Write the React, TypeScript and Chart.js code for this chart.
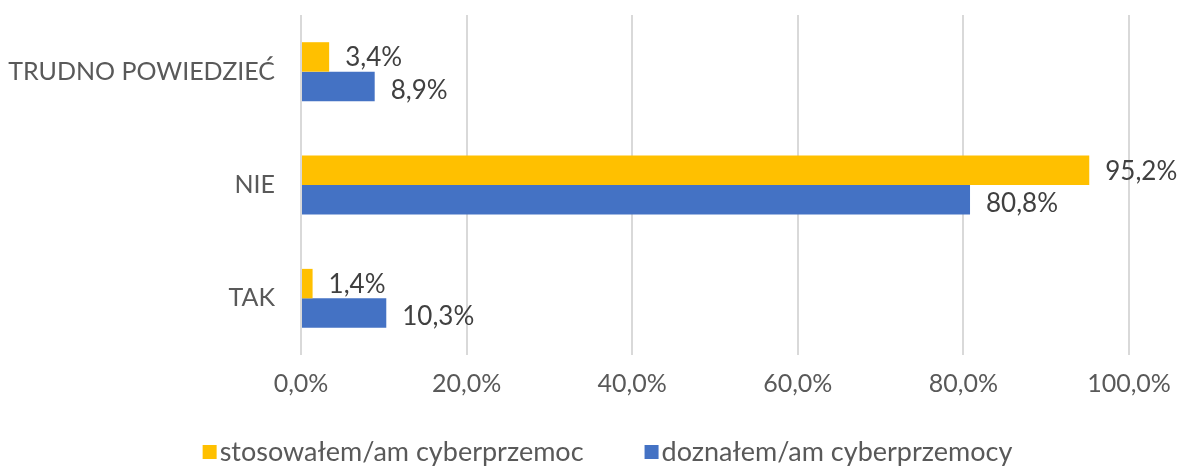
import React, { useEffect, useRef } from "react";
import { Chart, registerables } from "chart.js";

Chart.register(...registerables);

const categories = ["TRUDNO POWIEDZIEĆ", "NIE", "TAK"];
const stosowalem = [3.4, 95.2, 1.4];
const doznalem = [8.9, 80.8, 10.3];
const seriesNames = ["stosowałem/am cyberprzemoc", "doznałem/am cyberprzemocy"];
const seriesColors = ["#FFC000", "#4472C4"];
const xTicks = [0, 20, 40, 60, 80, 100];

const FONT = "Lato, 'Open Sans', sans-serif";

const fmt = (v: number) => v.toFixed(1).replace(".", ",") + "%";

const labelPlugin = {
  id: "barLabels",
  afterDatasetsDraw(chart: any) {
    const ctx = chart.ctx;
    ctx.save();
    ctx.font = `26px ${FONT}`;
    ctx.fillStyle = "#404040";
    ctx.textAlign = "left";
    ctx.textBaseline = "middle";
    chart.data.datasets.forEach((ds: any, di: number) => {
      const meta = chart.getDatasetMeta(di);
      meta.data.forEach((bar: any, i: number) => {
        const dy = di === 0 ? 1 : 4;
        ctx.fillText(fmt(ds.data[i]), bar.x + 16, bar.y + dy);
      });
    });
    ctx.restore();
  },
};

const legendPlugin = {
  id: "customLegend",
  afterDraw(chart: any) {
    const ctx = chart.ctx;
    ctx.save();
    ctx.font = `27px ${FONT}`;
    ctx.textBaseline = "middle";
    ctx.textAlign = "left";
    const box = 14;
    const gapBoxText = 3;
    const gapItems = 61;
    const widths = seriesNames.map((n) => ctx.measureText(n).width);
    const total =
      widths.reduce((a, w) => a + box + gapBoxText + w, 0) + gapItems * (seriesNames.length - 1);
    let x = chart.width / 2 + 16 - total / 2;
    const yc = 452;
    seriesNames.forEach((n, i) => {
      ctx.fillStyle = seriesColors[i];
      ctx.fillRect(x, yc - box / 2, box, box);
      x += box + gapBoxText;
      ctx.fillStyle = "#595959";
      ctx.fillText(n, x, yc);
      x += widths[i] + gapItems;
    });
    ctx.restore();
  },
};

export default function App() {
  const ref = useRef<HTMLCanvasElement>(null);
  useEffect(() => {
    if (!ref.current) return;
    const chart = new Chart(ref.current, {
      type: "bar",
      data: {
        labels: categories,
        datasets: [
          {
            label: seriesNames[0],
            data: stosowalem,
            backgroundColor: seriesColors[0],
            categoryPercentage: 0.52,
            barPercentage: 1,
          },
          {
            label: seriesNames[1],
            data: doznalem,
            backgroundColor: seriesColors[1],
            categoryPercentage: 0.52,
            barPercentage: 1,
          },
        ],
      },
      options: {
        indexAxis: "y",
        animation: false,
        responsive: true,
        maintainAspectRatio: false,
        layout: { padding: { top: 15, right: 54, left: 0, bottom: 0 } },
        scales: {
          x: {
            min: 0,
            max: 100,
            afterBuildTicks: (axis: any) => {
              axis.ticks = xTicks.map((v) => ({ value: v }));
            },
            afterFit: (axis: any) => {
              axis.height = 111;
              axis.paddingLeft = 0;
              axis.paddingRight = 0;
            },
            ticks: {
              callback: (v: any) => fmt(Number(v)),
              color: "#595959",
              font: { family: FONT, size: 25 },
              padding: 14,
              maxRotation: 0,
            },
            grid: { color: "#D9D9D9", lineWidth: 2, drawTicks: false },
            border: { display: false },
          },
          y: {
            afterFit: (axis: any) => {
              axis.width = 301;
              axis.paddingTop = 0;
              axis.paddingBottom = 0;
            },
            ticks: {
              color: "#595959",
              font: { family: FONT, size: 25 },
              padding: 26,
            },
            grid: { display: false, drawTicks: false },
            border: { display: false },
          },
        },
        plugins: {
          legend: { display: false },
          tooltip: { enabled: false },
        },
      },
      plugins: [labelPlugin, legendPlugin],
    });
    return () => chart.destroy();
  }, []);
  return (
    <div style={{ position: "fixed", left: 0, top: 0, width: 1183, height: 466, background: "#fff" }}>
      <canvas ref={ref} />
    </div>
  );
}
